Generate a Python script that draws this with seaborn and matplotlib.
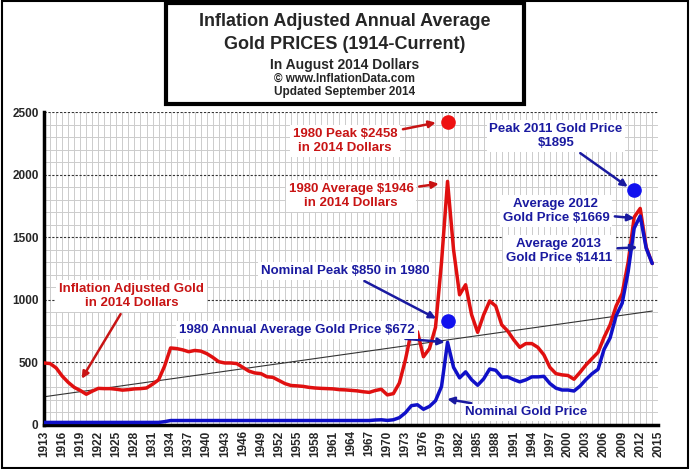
import numpy as np
import pandas as pd
import matplotlib
matplotlib.use("Agg")
import matplotlib.pyplot as plt
import seaborn as sns
from matplotlib.patches import Rectangle

years = list(range(1913, 2015))
real = [495, 490, 455, 390, 340, 300, 275, 245, 270, 292, 290, 290, 285, 278, 282, 288, 290, 295, 325, 360,
        470, 615, 610, 600, 585, 595, 590, 570, 540, 505, 495, 495, 490, 460, 430, 415, 410, 385, 380, 355,
        330, 315, 312, 308, 300, 295, 292, 290, 288, 282, 280, 276, 272, 265, 260, 275, 285, 240, 250, 335,
        520, 750, 745, 545, 610, 780, 1300, 1946, 1400, 1040, 1120, 880, 740, 880, 990, 950, 800, 750, 680, 620,
        650, 650, 620, 560, 460, 410, 400, 395, 365, 420, 480, 530, 580, 700, 800, 950, 1050, 1300, 1660, 1730,
        1420, 1290]
nominal = [20] * 20 + [26] + [35] * 34 + [39, 41, 36, 41, 58, 97, 154, 161, 125, 148, 193, 307, 660, 460, 376,
           424, 361, 317, 368, 447, 437, 381, 384, 362, 344, 360, 384, 384, 388, 331, 294, 279, 279, 271, 310,
           363, 409, 445, 604, 695, 872, 972, 1225, 1572, 1669, 1411, 1290]
trend_x = [1913, 2014]
trend_y = [225, 910]
tick_years = list(range(1913, 2016, 3))

df = pd.DataFrame({'year': years, 'real': real, 'nominal': nominal})

sns.set_style("white")
plt.rcParams['font.family'] = ['Liberation Sans', 'DejaVu Sans']
fig = plt.figure(figsize=(6.9, 4.69), dpi=100)
ax = fig.add_axes([0.064, 0.094, 0.89, 0.667])

ax.set_xlim(1913, 2015)
ax.set_ylim(0, 2500)
for y in range(1913, 2016):
    ax.axvline(y, color='#cccccc', lw=0.7, zorder=0)
for v in range(100, 2500, 100):
    if v % 500:
        ax.axhline(v, color='#cccccc', lw=0.7, zorder=0)
for v in range(500, 2501, 500):
    ax.axhline(v, color='#333333', lw=0.8, ls=(0, (2, 1.5)), zorder=0)

ax.plot(trend_x, trend_y, color='#333333', lw=0.8, zorder=1)
sns.lineplot(data=df, x='year', y='real', color='#e01010', lw=2.5, ax=ax, zorder=3)
sns.lineplot(data=df, x='year', y='nominal', color='#1010c8', lw=2.5, ax=ax, zorder=3)

ax.set_xticks(tick_years)
ax.set_xticklabels([str(t) for t in tick_years], rotation=90, fontsize=8.5, fontweight='bold')
ax.set_yticks(range(0, 2501, 500))
ax.set_yticklabels([str(v) for v in range(0, 2501, 500)], fontsize=8.5, fontweight='bold')
ax.set_xlabel('')
ax.set_ylabel('')
for s in ['top', 'right']:
    ax.spines[s].set_visible(False)
ax.spines['left'].set_linewidth(2.5)
ax.spines['bottom'].set_linewidth(2.5)
ax.spines['left'].set_color('black')
ax.spines['bottom'].set_color('black')
ax.tick_params(axis='both', length=3, width=1, pad=1)

red = '#c81414'
blue = '#1a1aa0'
box = dict(facecolor='white', edgecolor='none', pad=2)
ax.scatter([1980], [2420], s=90, color='#ee1111', zorder=4)
ax.scatter([1980, 2011], [830, 1875], s=90, color='#1111ee', zorder=4)

def note(txt, xy, xytext, col):
    ax.annotate(txt, xy=xy, xytext=xytext, color=col, fontsize=9.5, fontweight='bold', ha='center',
                va='center', bbox=box, zorder=5,
                arrowprops=dict(arrowstyle='-|>', color=col, lw=1.8, mutation_scale=10))

note('1980 Peak $2458\nin 2014 Dollars', (1978.5, 2420), (1963, 2270), red)
note('1980 Average $1946\nin 2014 Dollars', (1979, 1930), (1964, 1830), red)
note('Inflation Adjusted Gold\nin 2014 Dollars', (1919, 350), (1927.5, 1030), red)
note('Nominal Peak $850 in 1980', (1978.5, 840), (1963, 1230), blue)
note('1980 Annual Average Gold Price $672', (1980, 660), (1955, 760), blue)
note('Nominal Gold Price', (1979.5, 210), (1993, 100), blue)
note('Peak 2011 Gold Price\n$1895', (2010.3, 1890), (1998, 2310), blue)
note('Average 2012\nGold Price $1669', (2011.5, 1650), (1998, 1710), blue)
note('Average 2013\nGold Price $1411', (2012, 1420), (1998.5, 1390), blue)

fig.patches.append(Rectangle((0.003, 0.003), 0.994, 0.994, transform=fig.transFigure,
                             fill=False, edgecolor='black', lw=1.5))
fig.patches.append(Rectangle((0.24, 0.778), 0.52, 0.215, transform=fig.transFigure,
                             facecolor='white', edgecolor='black', lw=3))
fig.text(0.5, 0.955, 'Inflation Adjusted Annual Average', ha='center', va='center', fontsize=13, fontweight='bold')
fig.text(0.5, 0.905, 'Gold PRICES (1914-Current)', ha='center', va='center',
         fontsize=13, fontweight='bold')
fig.text(0.5, 0.862, 'In August 2014 Dollars', ha='center', va='center', fontsize=10, fontweight='bold')
fig.text(0.5, 0.832, '© www.InflationData.com', ha='center', va='center', fontsize=8.5, fontweight='bold')
fig.text(0.5, 0.803, 'Updated September 2014', ha='center', va='center', fontsize=8.5, fontweight='bold')

fig.savefig('out.png', dpi=100)
